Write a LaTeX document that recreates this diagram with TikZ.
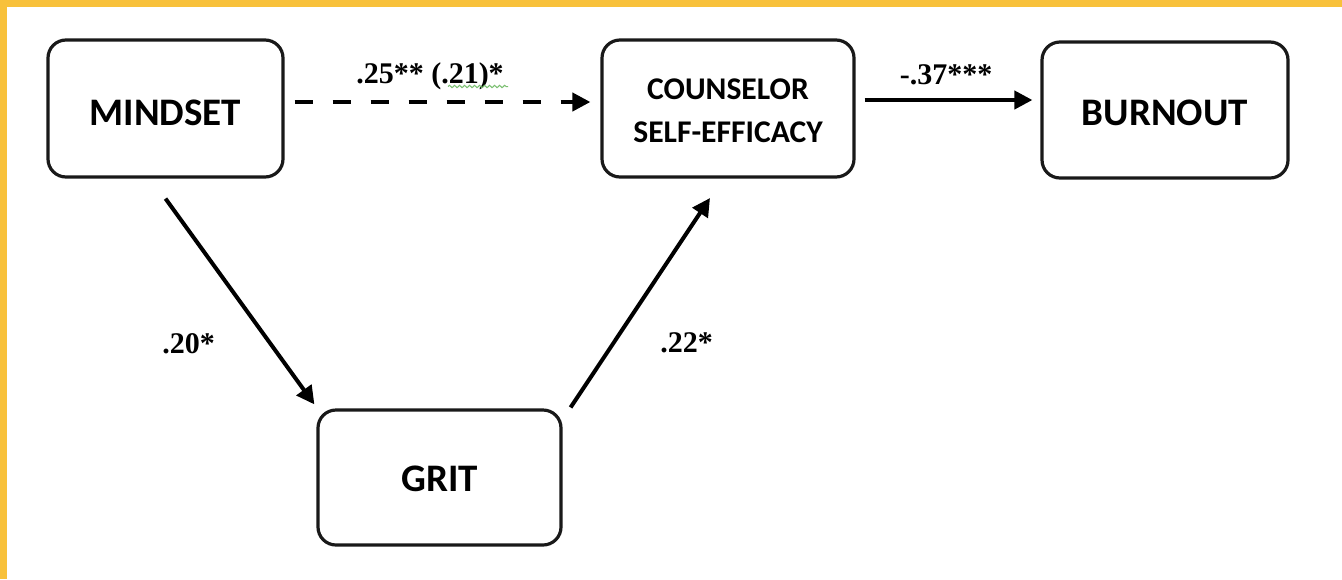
\documentclass[tikz,border=0pt]{standalone}
\usepackage{fontspec}
\newfontfamily\boxfont{Carlito}
\newfontfamily\labfont{Liberation Serif}
\usetikzlibrary{arrows.meta,decorations.pathmorphing,calc}
\definecolor{frameyellow}{RGB}{248,193,59}
\definecolor{squig}{RGB}{120,190,110}
\begin{document}
\begin{tikzpicture}[x=0.5pt,y=-0.5pt,
  varbox/.style={draw=black!90,line width=1.6pt,rounded corners=9pt,
    font=\boxfont\bfseries\fontsize{19.5}{22}\selectfont,
    text height=17pt,text depth=0pt,inner sep=0pt,align=center},
  conn/.style={line width=2pt,-{Triangle[length=9pt,width=9pt]}},
  dashconn/.style={conn,dash pattern=on 9pt off 10pt},
  coef/.style={font=\labfont\bfseries\fontsize{15}{18}\selectfont,anchor=base,inner sep=0pt}]
\useasboundingbox (0,0) rectangle (1342,579);
\fill[white] (0,0) rectangle (1342,579);
\fill[frameyellow] (0,0) rectangle (1342,7);
\fill[frameyellow] (0,0) rectangle (7,579);

\node[varbox,minimum width=117.5pt,minimum height=68.5pt] (mind) at (165.5,108.5) {MINDSET};
\node[varbox,minimum width=126pt,minimum height=68.5pt] (cse) at (728,108.5) {};
\node[font=\boxfont\bfseries\fontsize{15.8}{21.5}\selectfont,align=center,inner sep=0pt] (csetxt) at (728,111) {COUNSELOR\\SELF-EFFICACY};
\node[varbox,minimum width=123pt,minimum height=68pt,text height=15.5pt] (burn) at (1165,110) {BURNOUT};
\node[varbox,minimum width=121.5pt,minimum height=67.5pt,text height=13.5pt] (grit) at (439.5,477.5) {GRIT};

\coordinate (a1) at ([yshift=-10pt]mind.south);
\coordinate (a2) at ([xshift=-1pt,yshift=2pt]grit.north west);
\coordinate (b1) at ([xshift=4pt,yshift=0.5pt]grit.north east);
\coordinate (b2) at ([xshift=-9pt,yshift=-9.7pt]cse.south);

\draw[dashconn,shorten <=5pt,shorten >=5pt] ([yshift=3.25pt]mind.east) -- ([yshift=3.25pt]cse.west);
\draw[conn,shorten <=4.5pt,shorten >=4pt] ([yshift=4.25pt]cse.east) -- ([yshift=5pt]burn.west);
\draw[conn] (a1) -- (a2);
\draw[conn] (b1) -- (b2);

\node[coef] (l1) at (430,83) {.25** (.21)*};
\node[coef] (l2) at (946,84) {-.37***};
\node[coef] (l3) at (188.5,353) {.20*};
\node[coef] (l4) at (686.5,352) {.22*};

\draw[squig,line width=0.5pt,decorate,decoration={snake,amplitude=0.6pt,segment length=2.5pt}] (448,86.5) -- (508,86.5);
\end{tikzpicture}
\end{document}
